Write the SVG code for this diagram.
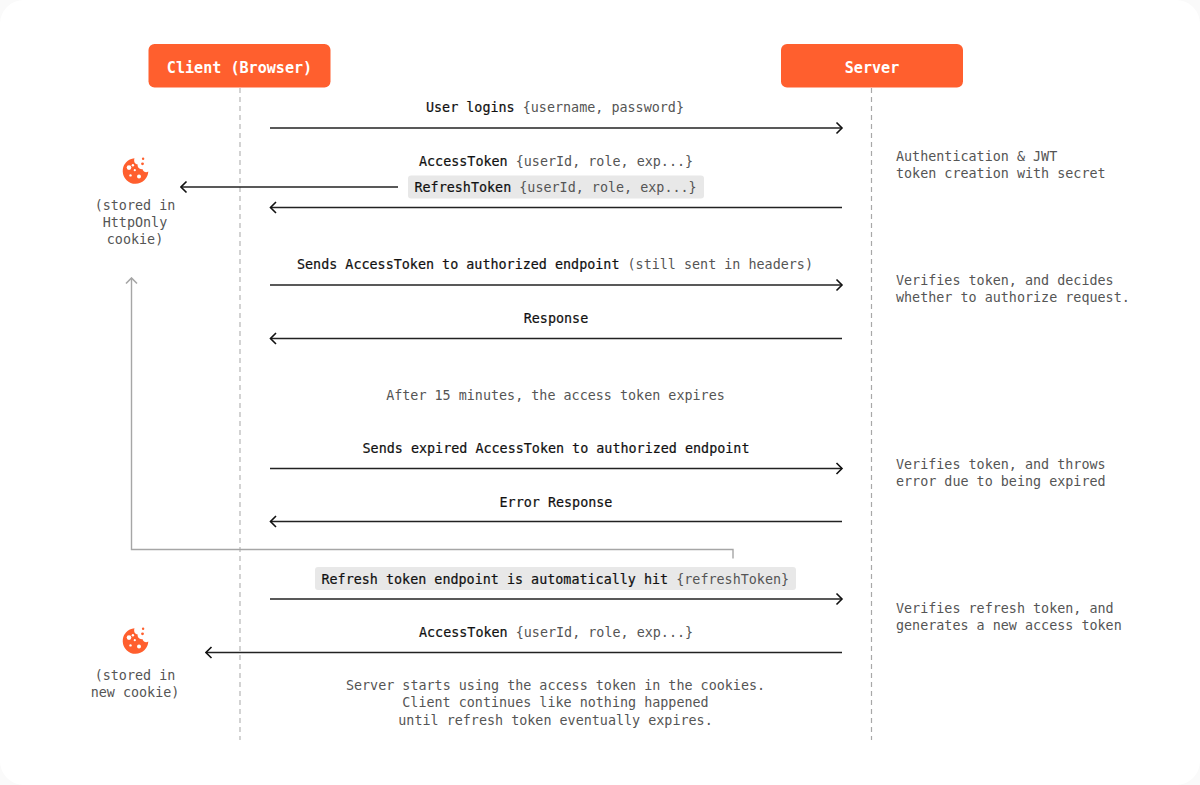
<svg xmlns="http://www.w3.org/2000/svg" width="1200" height="785" viewBox="0 0 1200 785">
<style>
text{font-family:"DejaVu Sans Mono","Liberation Mono",monospace;font-size:13.4px;fill:#555}
.c{text-anchor:middle}
.d{fill:#111;stroke:#111;stroke-width:.2px}
.t{font-size:15.1px;font-weight:700;fill:#fff;text-anchor:middle}
.life{stroke:#c8c8c8;stroke-width:1.6;stroke-dasharray:5 4;fill:none}
.life2{stroke:#a8a8a8;stroke-width:1.2;stroke-dasharray:5 4;fill:none}
.a{stroke:#222;stroke-width:1.6;fill:none;marker-end:url(#h)}
.hl{fill:#e8e8e8}
</style>
<defs>
<marker id="h" viewBox="0 0 12 14" refX="10.5" refY="7" markerWidth="12" markerHeight="14" markerUnits="userSpaceOnUse" orient="auto"><path d="M5 1.5 L10.5 7 L5 12.500" fill="none" stroke="#111" stroke-width="1.600"/></marker>
<marker id="g" viewBox="0 0 12 14" refX="10.500" refY="7" markerWidth="12" markerHeight="14" markerUnits="userSpaceOnUse" orient="auto"><path d="M5 1.500 L10.500 7 L5 12.500" fill="none" stroke="#a6a6a6" stroke-width="1.600"/></marker>
<g id="cookie">
<path d="M-1 -12.800 A12.800 12.800 0 1 0 12.800 0.600 C10.500 2.200 7.400 0.800 6.900 -1.900 C4 -1.400 1.600 -3.800 2.200 -6.500 C-0.800 -6.800 -2 -9.800 -1 -12.800 Z" fill="#ff5f2e"/>
<g fill="#fff"><circle cx="-6.500" cy="-3.400" r="2.300"/><circle cx="-2.600" cy="-5.800" r="1.200"/><circle cx="-0.700" cy="-0.800" r="1.100"/><circle cx="-5" cy="4.400" r="1.200"/><circle cx="3.500" cy="5.500" r="2"/></g>
<g fill="#ff5f2e"><circle cx="7.600" cy="-12.300" r="1.200"/><circle cx="7" cy="-7.200" r="1.400"/></g>
</g>
</defs>
<rect width="1200" height="785" fill="#fafafa"/>
<rect x="0" y="0" width="1200" height="785" rx="24" fill="#fff"/>
<g id="lifelines">
<path class="life" d="M240 88V740"/>
<path class="life2" d="M871.500 88V740"/>
</g>
<g id="node-client"><rect x="148.500" y="44" width="182" height="43.500" rx="6" fill="#ff5f2e"/><text class="t" x="239.500" y="72.500">Client (Browser)</text></g>
<g id="node-server"><rect x="781" y="44" width="182" height="43.500" rx="6" fill="#ff5f2e"/><text class="t" x="872" y="72.500">Server</text></g>
<g id="connectors">
<path class="a" d="M270 128H842"/>
<path class="a" d="M398 187H181"/>
<path class="a" d="M842 207.500H270.500"/>
<path class="a" d="M270 285H842"/>
<path class="a" d="M842 338.500H270.500"/>
<path class="a" d="M270 468.500H842"/>
<path class="a" d="M842 521.500H270.500"/>
<path class="a" d="M270 599H842"/>
<path class="a" d="M842 652.500H206"/>
<path d="M733 558.500V549.500H131.500V278" fill="none" stroke="#a6a6a6" stroke-width="1.400" marker-end="url(#g)"/>
</g>
<g id="msg-login"><text x="426" y="112"><tspan class="d">User logins</tspan> {username, password}</text></g>
<g id="msg-access"><text x="419" y="166"><tspan class="d">AccessToken</tspan> {userId, role, exp...}</text></g>
<g id="msg-refresh"><rect class="hl" x="408" y="175.500" width="296" height="23" rx="3"/><text x="414.500" y="192"><tspan class="d">RefreshToken</tspan> {userId, role, exp...}</text></g>
<g id="msg-send"><text x="297" y="268.500"><tspan class="d">Sends AccessToken to authorized endpoint</tspan> (still sent in headers)</text></g>
<g id="msg-response"><text class="c d" x="556" y="323">Response</text></g>
<g id="msg-expiry"><text class="c" x="555.500" y="400">After 15 minutes, the access token expires</text></g>
<g id="msg-expired"><text class="c d" x="556" y="452.500">Sends expired AccessToken to authorized endpoint</text></g>
<g id="msg-error"><text class="c d" x="556" y="507">Error Response</text></g>
<g id="msg-hit"><rect class="hl" x="315" y="567" width="481" height="23" rx="3"/><text x="321.500" y="584"><tspan class="d">Refresh token endpoint is automatically hit</tspan> {refreshToken}</text></g>
<g id="msg-new"><text x="419" y="636.500"><tspan class="d">AccessToken</tspan> {userId, role, exp...}</text></g>
<g id="msg-end"><text class="c" x="555.500" y="690">Server starts using the access token in the cookies.</text><text class="c" x="555.500" y="707.300">Client continues like nothing happened</text><text class="c" x="555.500" y="724.600">until refresh token eventually expires.</text></g>
<g id="cookie-1"><use href="#cookie" x="135.500" y="171"/><text class="c" x="135" y="210">(stored in</text><text class="c" x="135" y="227.300">HttpOnly</text><text class="c" x="135" y="244">cookie)</text></g>
<g id="cookie-2"><use href="#cookie" x="135.500" y="641"/><text class="c" x="135" y="680">(stored in</text><text class="c" x="135" y="697">new cookie)</text></g>
<g id="note-1"><text x="896" y="161">Authentication &amp; JWT</text><text x="896" y="178.300">token creation with secret</text></g>
<g id="note-2"><text x="896" y="285">Verifies token, and decides</text><text x="896" y="302.300">whether to authorize request.</text></g>
<g id="note-3"><text x="896" y="468.500">Verifies token, and throws</text><text x="896" y="485.800">error due to being expired</text></g>
<g id="note-4"><text x="896" y="612.500">Verifies refresh token, and</text><text x="896" y="629.800">generates a new access token</text></g>
</svg>
